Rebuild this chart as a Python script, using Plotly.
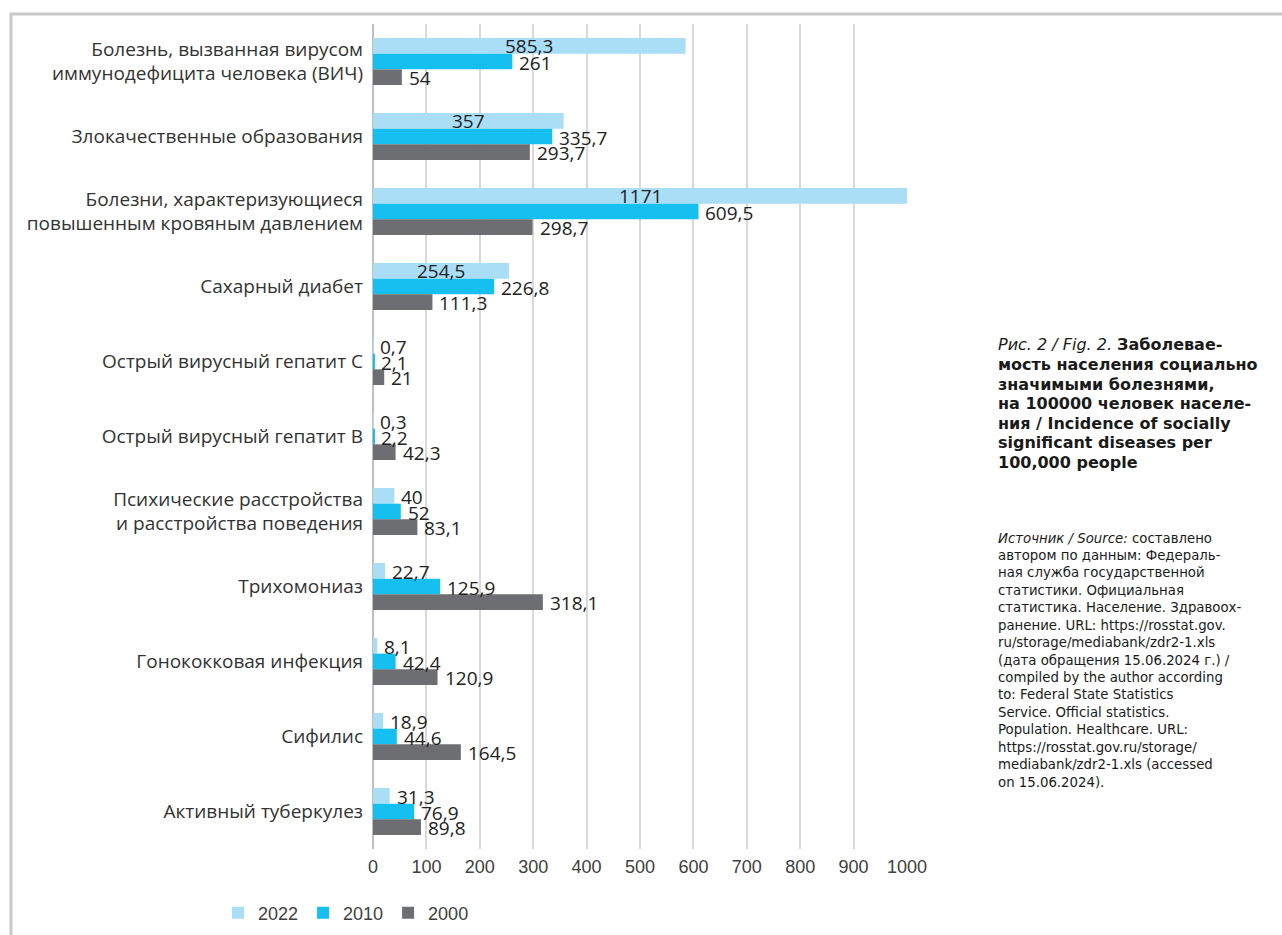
import plotly.graph_objects as go

categories = [
    "Болезнь, вызванная вирусом<br>иммунодефицита человека (ВИЧ)",
    "Злокачественные образования",
    "Болезни, характеризующиеся<br>повышенным кровяным давлением",
    "Сахарный диабет",
    "Острый вирусный гепатит С",
    "Острый вирусный гепатит В",
    "Психические расстройства<br>и расстройства поведения",
    "Трихомониаз",
    "Гонококковая инфекция",
    "Сифилис",
    "Активный туберкулез",
]
years = ["2022", "2010", "2000"]
values_2022 = [585.3, 357, 1171, 254.5, 0.7, 0.3, 40, 22.7, 8.1, 18.9, 31.3]
values_2010 = [261, 335.7, 609.5, 226.8, 2.1, 2.2, 52, 125.9, 42.4, 44.6, 76.9]
values_2000 = [54, 293.7, 298.7, 111.3, 21, 42.3, 83.1, 318.1, 120.9, 164.5, 89.8]
# 2022 labels drawn centred inside the bar in the original (first four groups)
centered_2022 = [True, True, True, True, False, False, False, False, False, False, False]
x_ticks = [0, 100, 200, 300, 400, 500, 600, 700, 800, 900, 1000]

title_lines = [
    "<i>Рис. 2 / Fig. 2.</i> <b>Заболевае-</b>",
    "<b>мость населения социально</b>",
    "<b>значимыми болезнями,</b>",
    "<b>на 100000 человек населе-</b>",
    "<b>ния / Incidence of socially</b>",
    "<b>significant diseases per</b>",
    "<b>100,000 people</b>",
]
source_lines = [
    "<i>Источник / Source:</i> составлено",
    "автором по данным: Федераль-",
    "ная служба государственной",
    "статистики. Официальная",
    "статистика. Население. Здравоох-",
    "ранение. URL: https://rosstat.gov.",
    "ru/storage/mediabank/zdr2-1.xls",
    "(дата обращения 15.06.2024 г.) /",
    "compiled by the author according",
    "to: Federal State Statistics",
    "Service. Official statistics.",
    "Population. Healthcare. URL:",
    "https://rosstat.gov.ru/storage/",
    "mediabank/zdr2-1.xls (accessed",
    "on 15.06.2024).",
]

series = [values_2022, values_2010, values_2000]
colors = ["#A9DEF6", "#15C0F0", "#6D6E71"]

W, H = 1282, 935
L, R, T, B = 373, 1282 - 907, 24, 935 - 849
PW, PH = W - L - R, H - T - B
XMAX = 1000
BARGAP = 0.373


def fmt(v):
    return f"{v:g}".replace(".", ",")


def px2x(px):
    return (px - L) / PW


def py2y(py):
    return (H - B - py) / PH


fig = go.Figure()
for name, vals, col in zip(years, series, colors):
    fig.add_trace(go.Bar(
        y=categories, x=vals, name=name, orientation="h",
        marker=dict(color=col, line=dict(width=0)),
        hoverinfo="x+name",
    ))

band_px = PH / len(categories)
bar_px = band_px * (1 - BARGAP) / len(series)
label_font = dict(family="Open Sans, Arial, sans-serif", size=19, color="#222222")

annotations = []
for k, vals in enumerate(series):
    yshift = -(k - 1) * bar_px
    for i, v in enumerate(vals):
        if k == 0 and centered_2022[i]:
            annotations.append(dict(
                x=min(v, XMAX) / 2, y=categories[i], xref="x", yref="y",
                text=fmt(v), showarrow=False, xanchor="center", yanchor="middle",
                yshift=yshift, font=label_font,
            ))
        else:
            annotations.append(dict(
                x=v, y=categories[i], xref="x", yref="y",
                text=fmt(v), showarrow=False, xanchor="left", yanchor="middle",
                xshift=5, yshift=yshift - 1, font=label_font,
            ))

title_font = dict(family="DejaVu Sans, Arial, sans-serif", size=16, color="#1a1a1a")
source_font = dict(family="DejaVu Sans, Arial, sans-serif", size=13.3, color="#1a1a1a")
for i, line in enumerate(title_lines):
    annotations.append(dict(
        x=px2x(996), y=py2y(345 + i * 19.5), xref="paper", yref="paper",
        text=line, showarrow=False, xanchor="left", yanchor="middle", align="left",
        font=title_font,
    ))
for i, line in enumerate(source_lines):
    annotations.append(dict(
        x=px2x(996), y=py2y(538 + i * 17.43), xref="paper", yref="paper",
        text=line, showarrow=False, xanchor="left", yanchor="middle", align="left",
        font=source_font,
    ))

shapes = [
    dict(type="line", xref="paper", yref="paper", x0=px2x(10), x1=px2x(W),
         y0=py2y(14), y1=py2y(14), line=dict(color="#C8C8CA", width=3)),
    dict(type="line", xref="paper", yref="paper", x0=px2x(11), x1=px2x(11),
         y0=py2y(13), y1=py2y(H), line=dict(color="#C8C8CA", width=3)),
]

fig.update_layout(
    width=W, height=H,
    margin=dict(l=L, r=R, t=T, b=B, autoexpand=False),
    paper_bgcolor="white", plot_bgcolor="white",
    barmode="group", bargap=BARGAP, bargroupgap=0,
    showlegend=True,
    legend=dict(
        orientation="h", x=px2x(218), y=py2y(913), xanchor="left", yanchor="middle",
        font=dict(family="Liberation Sans Narrow, Arial Narrow, Arial, sans-serif", size=18, color="#404040"),
        traceorder="normal", bgcolor="rgba(0,0,0,0)",
    ),
    xaxis=dict(
        range=[0, XMAX], tickvals=x_ticks, showgrid=True, gridcolor="#D9D9D9", gridwidth=2,
        zeroline=True, zerolinecolor="#BFBFBF", zerolinewidth=2, showline=False, ticks="",
        ticklabelstandoff=5,
        tickfont=dict(family="Liberation Sans Narrow, Arial Narrow, Arial, sans-serif", size=18, color="#404040"),
        fixedrange=True,
    ),
    yaxis=dict(
        autorange="reversed", showgrid=False, zeroline=False, showline=False, ticks="",
        ticklabelstandoff=9,
        tickfont=dict(family="Open Sans, Arial, sans-serif", size=19, color="#333333"),
        fixedrange=True,
    ),
    annotations=annotations,
    shapes=shapes,
)

fig.write_html("out.html", config={"displayModeBar": False},
               post_script="document.body.style.margin='0';")
